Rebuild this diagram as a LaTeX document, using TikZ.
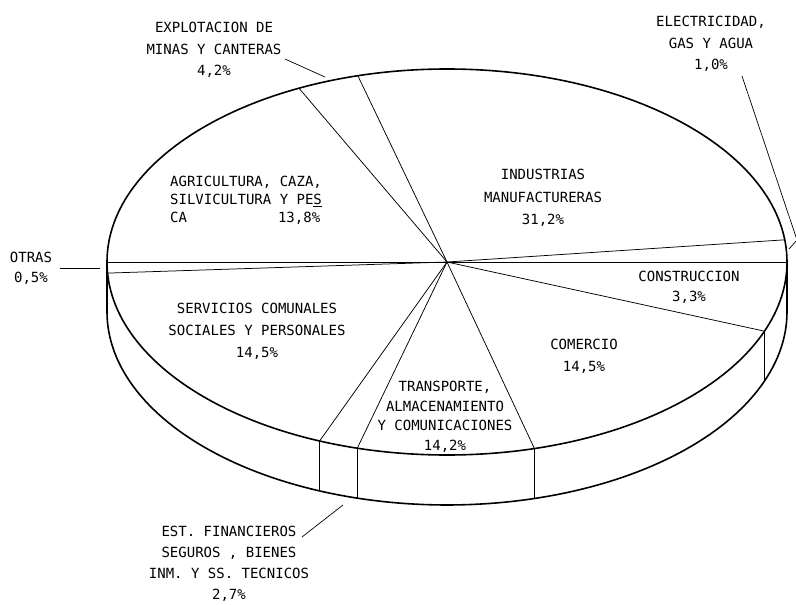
\documentclass[tikz,border=0pt]{standalone}
\usepackage{fontspec}
\newfontfamily\plotfont{DejaVu Sans Mono}
\begin{document}
\begin{tikzpicture}[x=1pt,y=-1pt,
  lbl/.style={font=\plotfont\fontsize{14}{21.5}\selectfont, align=center, inner sep=0pt},
  rim/.style={line width=1.6pt},
  cut/.style={line width=0.75pt},
  lead/.style={line width=0.7pt}]
\useasboundingbox (0,0) rectangle (796,605);

\coordinate (C) at (447,262);
\foreach \n/\a in {a/180,b/183.3,c/248,d/254.7,e/284.9,f/339,g/360,h/366.6,i/465.2,j/475.8}{
  \coordinate (t\n) at ({447+340*cos(\a)},{262-193*sin(\a)});
  \coordinate (b\n) at ({447+340*cos(\a)},{312-193*sin(\a)});
}

% top ellipse and side
\draw[rim] (C) ellipse [x radius=340, y radius=193];
\draw[rim] plot[domain=180:360, samples=120] ({447+340*cos(\x)},{312-193*sin(\x)});
\draw[rim] (ta) -- (ba);
\draw[rim] (tg) -- (bg);

% slice boundaries
\foreach \n in {a,b,c,d,e,f,g,h,i,j}{ \draw[cut] (C) -- (t\n); }
\foreach \n in {c,d,e,f}{ \draw[cut] (t\n) -- (b\n); }

% labels
\node[lbl] (explot) at (214,50) {EXPLOTACION DE\\MINAS Y CANTERAS\\4,2\%};
\node[lbl] (elec) at (711,44) {ELECTRICIDAD,\\GAS Y AGUA\\1,0\%};
\node[lbl, align=left, anchor=west, font=\plotfont\fontsize{14}{18}\selectfont] (agri) at (170,200)
  {AGRICULTURA, CAZA,\\SILVICULTURA Y PE\underline{S}\\CA\hspace{91pt}13,8\%};
\node[lbl, font=\plotfont\fontsize{14}{20}\selectfont] (otras) at (31,268) {OTRAS\\0,5\%};
\node[lbl, font=\plotfont\fontsize{14}{22.5}\selectfont] (indus) at (543,198) {INDUSTRIAS\\MANUFACTURERAS\\31,2\%};
\node[lbl, font=\plotfont\fontsize{14}{20}\selectfont] (constr) at (689,287) {CONSTRUCCION\\3,3\%};
\node[lbl, font=\plotfont\fontsize{14}{22}\selectfont] (comer) at (584,356) {COMERCIO\\14,5\%};
\node[lbl, font=\plotfont\fontsize{14}{19.5}\selectfont] (transp) at (445,417) {TRANSPORTE,\\ALMACENAMIENTO\\Y COMUNICACIONES\\14,2\%};
\node[lbl, font=\plotfont\fontsize{14}{22}\selectfont] (serv) at (257,331) {SERVICIOS COMUNALES\\SOCIALES Y PERSONALES\\14,5\%};
\node[lbl, font=\plotfont\fontsize{14}{21}\selectfont] (estfin) at (229,564) {EST. FINANCIEROS\\SEGUROS , BIENES\\INM. Y SS. TECNICOS\\2,7\%};

% leader lines
\coordinate (le1) at (285,59);  \coordinate (le2) at (325,77);
\coordinate (ll1) at (742,76);  \coordinate (ll2) at (797,240); \coordinate (ll3) at (789,249);
\coordinate (lo1) at (60,268);  \coordinate (lo2) at (100,268);
\coordinate (lf1) at (302,537); \coordinate (lf2) at (343,505);
\draw[lead] (le1) -- (le2);
\draw[lead] (ll1) -- (ll2) -- (ll3);
\draw[lead] (lo1) -- (lo2);
\draw[lead] (lf1) -- (lf2);
\end{tikzpicture}
\end{document}
